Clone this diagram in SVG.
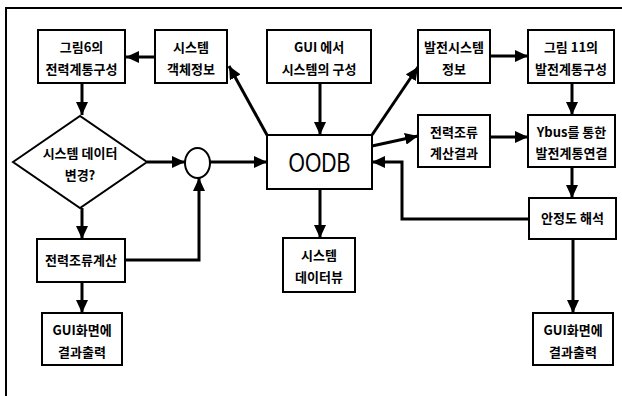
<svg xmlns="http://www.w3.org/2000/svg" width="622" height="396" viewBox="0 0 622 396">
<defs>
<marker id="ah" markerUnits="userSpaceOnUse" markerWidth="14" markerHeight="12" refX="13" refY="6" orient="auto">
<path d="M0,0 L13,6 L0,12 Z" fill="#000"/>
</marker>
<style>
.box{fill:#fff;stroke:#000;stroke-width:2}
.t{font-family:"Noto Sans CJK KR","Noto Sans",sans-serif;font-weight:bold;font-size:13px;text-anchor:middle;fill:#000}
.big{font-family:"Liberation Sans","Noto Sans",sans-serif;font-size:27px;text-anchor:middle;fill:#000}
.c{fill:none;stroke:#000;stroke-width:3;marker-end:url(#ah)}
</style>
</defs>
<rect width="622" height="396" fill="#fff"/>
<path d="M6,396 V8 H622" fill="none" stroke="#000" stroke-width="2"/>
<g id="connectors">
<path class="c" d="M155,57 L126,57"/>
<path class="c" d="M82,83 L82,115"/>
<path class="c" d="M147,162 L185,162"/>
<path class="c" d="M210,162 L267,162"/>
<path class="c" d="M82,208 L82,239"/>
<path class="c" d="M125,260 H199 V178"/>
<path class="c" d="M82,282 L82,313"/>
<path class="c" d="M320,83 L320,135"/>
<path class="c" d="M267,135 L229,66"/>
<path class="c" d="M320,189 L320,238"/>
<path class="c" d="M372,135 L418,67"/>
<path class="c" d="M372,146 L418,136"/>
<path class="c" d="M490,56 L528,56"/>
<path class="c" d="M572,83 L572,115"/>
<path class="c" d="M490,137 L528,137"/>
<path class="c" d="M572,167 L572,198"/>
<path class="c" d="M529,219 H402 V162 H372"/>
<path class="c" d="M573,239 L573,313"/>
</g>
<g id="fig6">
<rect class="box" x="38" y="30" width="87" height="53"/>
<text class="t" x="81.5" y="52">그림6의</text>
<text class="t" x="81.5" y="74">전력계통구성</text>
</g>
<g id="objinfo">
<rect class="box" x="155" y="30" width="72" height="53"/>
<text class="t" x="191" y="52">시스템</text>
<text class="t" x="191" y="74">객체정보</text>
</g>
<g id="gui">
<rect class="box" x="267" y="30" width="104" height="53"/>
<text class="t" x="319" y="52">GUI 에서</text>
<text class="t" x="319" y="74">시스템의 구성</text>
</g>
<g id="gensys">
<rect class="box" x="418" y="30" width="72" height="53"/>
<text class="t" x="454" y="52">발전시스템</text>
<text class="t" x="454" y="74">정보</text>
</g>
<g id="fig11">
<rect class="box" x="528" y="30" width="86" height="53"/>
<text class="t" x="571" y="52">그림 11의</text>
<text class="t" x="571" y="74">발전계통구성</text>
</g>
<g id="decision">
<polygon class="box" points="13,162 80,116 147,162 80,208"/>
<text class="t" x="80" y="158">시스템 데이터</text>
<text class="t" x="80" y="180">변경?</text>
</g>
<g id="junction">
<ellipse class="box" cx="197.5" cy="163" rx="12.5" ry="15"/>
</g>
<g id="oodb">
<rect class="box" x="267" y="135" width="105" height="54"/>
<text class="big" x="319.5" y="172" textLength="62" lengthAdjust="spacingAndGlyphs">OODB</text>
</g>
<g id="pfresult">
<rect class="box" x="418" y="115" width="72" height="52"/>
<text class="t" x="454" y="137">전력조류</text>
<text class="t" x="454" y="158">계산결과</text>
</g>
<g id="ybus">
<rect class="box" x="528" y="115" width="87" height="52"/>
<text class="t" x="571.5" y="137">Ybus를 통한</text>
<text class="t" x="571.5" y="158">발전계통연결</text>
</g>
<g id="stability">
<rect class="box" x="529" y="198" width="87" height="41"/>
<text class="t" x="572.5" y="223">안정도 해석</text>
</g>
<g id="pfcalc">
<rect class="box" x="37" y="239" width="88" height="43"/>
<text class="t" x="81" y="265">전력조류계산</text>
</g>
<g id="dataview">
<rect class="box" x="283" y="238" width="72" height="54"/>
<text class="t" x="319" y="260">시스템</text>
<text class="t" x="319" y="282">데이터뷰</text>
</g>
<g id="guiout1">
<rect class="box" x="42" y="313" width="80" height="52"/>
<text class="t" x="82" y="335">GUI화면에</text>
<text class="t" x="82" y="357">결과출력</text>
</g>
<g id="guiout2">
<rect class="box" x="533" y="313" width="80" height="52"/>
<text class="t" x="573" y="335">GUI화면에</text>
<text class="t" x="573" y="357">결과출력</text>
</g>
</svg>
